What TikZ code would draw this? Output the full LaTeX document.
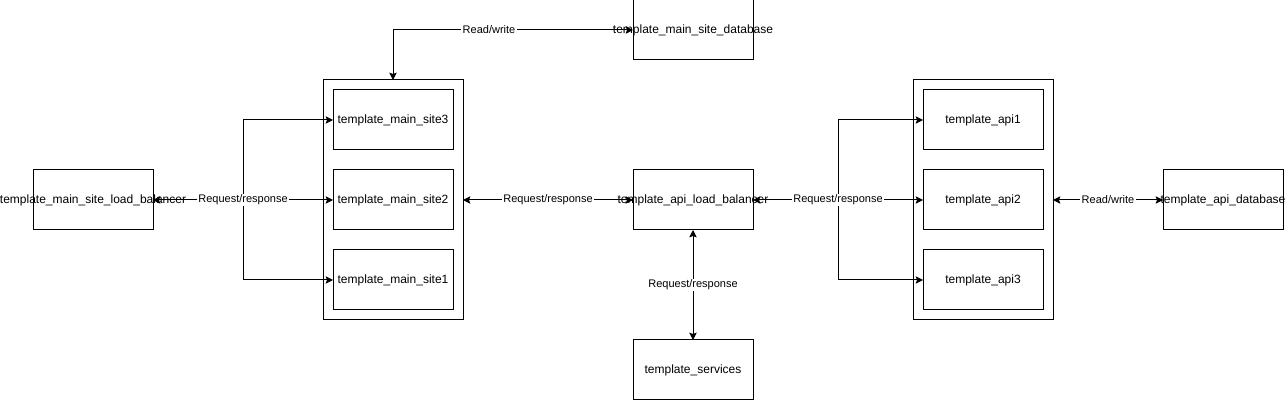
\documentclass[tikz,border=0pt]{standalone}
\usepackage{fontspec}
\setmainfont{Liberation Sans}
\usetikzlibrary{arrows.meta, positioning, fit, calc}
\newcommand{\spill}[1]{\makebox[0pt]{#1}}

\begin{document}
\begin{tikzpicture}[font=\fontsize{9}{11}\selectfont, line width=0.75pt,
    box/.style={draw, minimum width=90pt, minimum height=45pt, inner sep=0pt,
                outer sep=0pt, align=center},
    grp/.style={draw, inner sep=7.5pt, outer sep=0pt},
    lbl/.style={fill=white, inner sep=1pt, font=\fontsize{8.25}{10}\selectfont},
    arr/.style={-{Stealth[length=5.5pt, width=5.5pt, inset=1pt]}},
    darr/.style={{Stealth[length=5.5pt, width=5.5pt, inset=1pt]}-{Stealth[length=5.5pt, width=5.5pt, inset=1pt]}}
]
    \useasboundingbox (0,0) rectangle (964.5pt,-301.5pt);

    \node[box] (mslb) at (69.75pt,-150pt) {\spill{template\_main\_site\_load\_balancer}};
    \node[box, right=135pt of mslb] (ms2) {template\_main\_site2};
    \node[box, above=15pt of ms2] (ms3) {template\_main\_site3};
    \node[box, below=15pt of ms2] (ms1) {template\_main\_site1};
    \node[grp, fit=(ms3)(ms1)] (mscont) {};

    \node[box, right=135pt of ms2] (apilb) {\spill{template\_api\_load\_balancer}};
    \node[box, above=82.5pt of apilb] (msdb) {\spill{template\_main\_site\_database}};
    \node[box, below=82.5pt of apilb] (svc) {template\_services};

    \node[box, right=127.5pt of apilb] (api2) {template\_api2};
    \node[box, above=15pt of api2] (api1) {template\_api1};
    \node[box, below=15pt of api2] (api3) {template\_api3};
    \node[grp, fit=(api1)(api3)] (apicont) {};
    \node[box, right=82.5pt of apicont] (apidb) {\spill{template\_api\_database}};

    % Fan-out to the site and api instances
    \coordinate (lsplit) at ($(mslb.east)!0.5!(ms2.west)$);
    \coordinate (rsplit) at ($(apilb.east)!0.5!(api2.west)$);
    \draw[arr] (lsplit) |- (ms3);
    \draw[arr] (lsplit) |- (ms1);
    \draw[arr] (rsplit) |- (api1);
    \draw[arr] (rsplit) |- (api3);

    \draw[darr] (mslb) -- node[lbl] {Request/response} (ms2);
    \draw[darr] (apilb) -- node[lbl] {Request/response} (api2);
    \draw[darr] (mscont) -- node[lbl] {Request/response} (apilb);
    \draw[darr] (apilb) -- node[lbl] {Request/response} (svc);

    % Databases
    \draw[darr] (msdb) -| node[lbl, pos=0.3] {Read/write} (mscont);
    \draw[darr] (apicont) -- node[lbl] {Read/write} (apidb);
\end{tikzpicture}
\end{document}
